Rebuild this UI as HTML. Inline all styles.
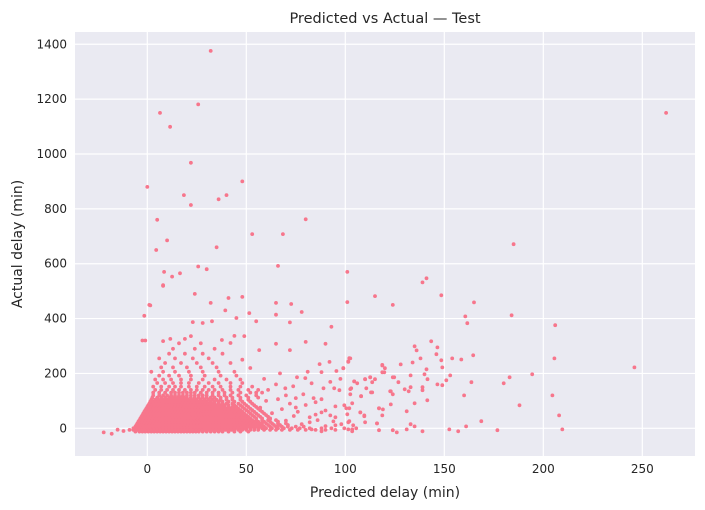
<!DOCTYPE html>
<html><head><meta charset="utf-8"><style>
body{margin:0;background:#fff;}
svg{display:block;font-family:"DejaVu Sans","Liberation Sans",sans-serif;}
</style></head><body>
<svg id="chart" width="705" height="510" xmlns="http://www.w3.org/2000/svg"></svg>
<script>
const xTicks = [0, 50, 100, 150, 200, 250];
const yTicks = [0, 200, 400, 600, 800, 1000, 1200, 1400];
const outliers = [
[32,1376],[6.4,1150],[11.5,1099],[25.7,1181],[22,968],[0,880],[18.5,850],[22,814],[36,835],[40,850],[48,900],
[5,760],[10,685],[4.5,650],[35,660],[53,708],[68.5,708],[80,762],[25.7,590],[30,580],[66,592],[8.5,570],[12.5,553],
[16.5,565],[8,522],[24,490],[41,475],[-1.5,410],[1,450],[-2.5,320],[-1,320],[1.5,448],[8,519],[32,457],[23,387],
[28,384],[32.7,390],[39.4,430],[45,402],[48,479],[51.5,420],[55,390],[49,336],[65,457],[65,414],[72.7,453],[78,424],
[72,386],[93,370],[101,570],[101,460],[115,482],[124,450],[65,308],[80,315],[90,308],[72,285],[56.5,285],[22,336],
[11.6,326],[19,326],[37.7,322],[42,311],[44,337],[8,318],[102,256],[118.7,231],[92.4,169],
[185,671],[141,547],[139,532],[148.5,485],[165,459],[160.6,408],[161.6,383],[184,412],[206,376],[205.6,255],[246,222],
[143.4,317],[146.5,295],[135,299],[136,284],[146,270],[138,255],[148.5,248],[154,255],[158.6,251],[164.6,266],[134,240],
[149,222],[141,215],[128,233],[118.7,229],[120,219],[119.7,204],[194.4,197],[183,186],[180,164],[163.7,168],[153,193],
[151,175],[149,157],[146.5,160],[141.5,179],[140,197],[133,193],[124.7,186],[126.8,168],[139,150],[139,139],[133,150],
[130,142],[132,135],[123,135],[124,124],[160,120],[204.6,120],[188,84],[208,47],[209.6,-4],[168.7,26],[176.8,-7],[161,7],
[157,-11],[152.5,-4],[141.4,102],[135,91],[131,62],[133,15],[135,7],[139,-11],[131,-4],[126,-15],[124,-7],[117,-7],[116,18],
[118.7,47],[117,73],[119,69],[123,87],[113,131],[110.6,146],[110,179],[112.6,186],[115,179],[113.6,168],[106,164],
[104.5,171],[102.5,255],[101.5,244],[99,219],[107.6,58],[109.6,47],[110,22],[103.5,91],[102,73],[99.5,84],[101,51],
[102,26],[104,11],[105.5,0],[103.5,-11],[101.5,-4],[99.5,0],[98,15],[108,117],[102.5,124],[103,146],[97,139],[262,1150],
[81,206],[87,234],[92,242],[88,205],[95.5,209],[99,219],[101.5,242],[97.5,180],[104.5,171],[110,179],[112.6,186],[118.7,204],
[124,186],[75.6,186],[79.8,183],[83,164],[89,146],[94.4,146],[102.5,143],[108,117],[113.6,131],[122.7,135],[69.7,146],
[73.7,153],[78.8,124],[84,110],[88,106],[95,80],[100.5,73],[107.6,58],[117,73],[66,106],[75,76],[82,40],[88,58],[92.4,47],
[101.5,22],[109.6,44],[116,18],[83,-4],[88,-11],[95,11],[103.5,-4],[-22,-15],[-18,-20],[-15,-5],[-12,-10],
[58,20],[62,35],[66,10],[70,28],[74,45],[78,15],[82,22],[86,30],[90,8],[94,25],[63,55],[68,70],[72,90],[76,60],[80,85],
[85,50],[90,65],[95,40],[60,100],[70,120],[55,130],[65,160],[75,110],[85,95],[57,75],[61,140],[59,180],[67,200],[52,220],[48,250]
];
const blobY = [-12,-6,0,6,12,18,24,30,36,42,48,54,60,66,72,78,84,90,97,104,112,120,130,140,152,165,178,192,206,222,238,255,272,290,310];
const blobX = [
"-6 -4 -2.5 -1 0.5 2 3.5 5 6.5 8 9.5 11 12.5 14 15.5 17 18.5 20 21.5 23 24.5 26 28 30 32 34 36 38 41 44 47 51",
"-9 -7 -5.5 -4 -2.5 -1 0.5 2 3.5 5 6.5 8 9.5 11 12.5 14 15.5 17 18.5 20 21.5 23 24.5 26 27.5 29 30.5 32 33.5 35 36.5 38 39.5 41 42.5 44 46 48 50 52 54 56 59 62 65 68 72 76 80 85 90 95",
"-7 -5.5 -4 -2.5 -1 0.5 2 3.5 5 6.5 8 9.5 11 12.5 14 15.5 17 18.5 20 21.5 23 24.5 26 27.5 29 30.5 32 33.5 35 36.5 38 39.5 41 42.5 44 45.5 47 48.5 50 52 54 56 58 60 63 66 69 73 77 82 88 93",
"-6 -4.5 -3 -1.5 0 1.5 3 4.5 6 7.5 9 10.5 12 13.5 15 16.5 18 19.5 21 22.5 24 25.5 27 28.5 30 31.5 33 34.5 36 37.5 39 40.5 42 43.5 45 46.5 48 49.5 51 53 55 57 59 62 65 68 71 75 79",
"-5.5 -4 -2.5 -1 0.5 2 3.5 5 6.5 8 9.5 11 12.5 14 15.5 17 18.5 20 21.5 23 24.5 26 27.5 29 30.5 32 33.5 35 36.5 38 39.5 41 42.5 44 45.5 47 48.5 50 52 54 56 58 61 64 67 71",
"-5 -3.5 -2 -0.5 1 2.5 4 5.5 7 8.5 10 11.5 13 14.5 16 17.5 19 20.5 22 23.5 25 26.5 28 29.5 31 32.5 34 35.5 37 38.5 40 41.5 43 44.5 46 47.5 49 51 53 55 57 60 63 66 70",
"-4.5 -3 -1.5 0 1.5 3 4.5 6 7.5 9 10.5 12 13.5 15 16.5 18 19.5 21 22.5 24 25.5 27 28.5 30 31.5 33 34.5 36 37.5 39 40.5 42 43.5 45 46.5 48 50 52 54 56 59 62 66",
"-4 -2.5 -1 0.5 2 3.5 5 6.5 8 9.5 11 12.5 14 15.5 17 18.5 20 21.5 23 24.5 26 27.5 29 30.5 32 33.5 35 36.5 38 39.5 41 42.5 44 45.5 47 49 51 53 55 58 61 65",
"-3.5 -2 -0.5 1 2.5 4 5.5 7 8.5 10 11.5 13 14.5 16 17.5 19 20.5 22 23.5 25 26.5 28 29.5 31 32.5 34 35.5 37 38.5 40 41.5 43 44.5 46 48 50 52 55 58 62",
"-3 -1.5 0 1.5 3 4.5 6 7.5 9 10.5 12 13.5 15 16.5 18 19.5 21 22.5 24 25.5 27 28.5 30 31.5 33 34.5 36 37.5 39 40.5 42 43.5 45 47 49 51 54 57 61",
"-2.5 -1 0.5 2 3.5 5 6.5 8 9.5 11 12.5 14 15.5 17 18.5 20 21.5 23 24.5 26 27.5 29 30.5 32 33.5 35 36.5 38 39.5 41 42.5 44 46 48 50 53 56 60",
"-2 -0.5 1 2.5 4 5.5 7 8.5 10 11.5 13 14.5 16 17.5 19 20.5 22 23.5 25 26.5 28 29.5 31 32.5 34 35.5 37 38.5 40 41.5 43 45 47 49 52 55 59",
"-1.5 0 1.5 3 4.5 6 7.5 9 10.5 12 13.5 15 16.5 18 19.5 21 22.5 24 25.5 27 28.5 30 31.5 33 34.5 36 37.5 39 40.5 42 44 46 48 51 54 58",
"-1 0.5 2 3.5 5 6.5 8 9.5 11 12.5 14 15.5 17 18.5 20 21.5 23 24.5 26 27.5 29 30.5 32 33.5 35 36.5 38 39.5 41 43 45 47 50 53 57",
"-0.5 1 2.5 4 5.5 7 8.5 10 11.5 13 14.5 16 17.5 19 20.5 22 23.5 25 26.5 28 29.5 31 32.5 34 35.5 37 38.5 40 42 44 46 49 52 56",
"0 1.5 3 4.5 6 7.5 9 10.5 12 13.5 15 16.5 18 19.5 21 22.5 24 25.5 27 28.5 30 31.5 33 34.5 36 37.5 39 41 43 45 48 51 55",
"0.5 2 3.5 5 6.5 8 9.5 11 12.5 14 15.5 17 18.5 20 21.5 23 24.5 26 27.5 29 30.5 32 33.5 35 37 39 41 44 47 50 54",
"1 2.5 4 5.5 7 8.5 10 11.5 13 14.5 16 17.5 19 20.5 22 23.5 25 26.5 28 29.5 31 32.5 34 36 38 40 43 46 49 53",
"1.5 3 4.5 6 7.5 9 10.5 12 13.5 15 16.5 18 19.5 21 22.5 24 25.5 27 28.5 30 32 34 36 38 41 44 48 52",
"2 4 5.5 7 8.5 10 11.5 13 14.5 16 17.5 19 20.5 22 23.5 25 27 29 31 33 35 37 40 43 47 51",
"2.5 5 7 9 11 12.5 14 15.5 17 18.5 20 22 24 26 28 30 32 34 37 40 43 47 51 56",
"3 6 8 10 12 14 16 18 20 22 24 26 28 30 33 36 39 42 46 50 55",
"3 6 9 12 14 16 18 20 22 24 27 30 33 36 39 43 47 52 58",
"4 7 10 13 16 19 22 25 28 31 34 38 42 46 51 56",
"3 7 11 14 17 21 25 29 33 37 42 47 53",
"5 9 13 17 21 26 31 36 42 48",
"4 8 12 17 22 28 34 40 47",
"6 11 16 22 29 37 45",
"2 8 14 21 28 36 44",
"7 13 20 27 35",
"9 17 25 33 42",
"6 14 23 31",
"11 19 28 38",
"13 24 34",
"16 27"
];
const NS = "http://www.w3.org/2000/svg";
const svg = document.getElementById('chart');
const L=75,R=695,T=32,B=456;
const sx = v => 147.3 + v*1.98;
const sy = v => 428.3 - v*0.2743;
function el(tag, attrs, parent){const e=document.createElementNS(NS,tag);for(const k in attrs)e.setAttribute(k,attrs[k]);(parent||svg).appendChild(e);return e;}
const bg = el('rect',{x:L,y:T,width:R-L,height:B-T,fill:'#eaeaf2'});


const grid = el('g',{stroke:'#ffffff','stroke-width':1.2});


xTicks.forEach(t=>{el('line',{x1:sx(t),x2:sx(t),y1:T,y2:B},grid);
 const tx=el('text',{x:sx(t),y:473,'text-anchor':'middle','font-size':12,fill:'#262626'});tx.textContent=t;
 
 });
yTicks.forEach(t=>{el('line',{x1:L,x2:R,y1:sy(t),y2:sy(t)},grid);
 const tx=el('text',{x:67,y:sy(t)+4,'text-anchor':'end','font-size':12,fill:'#262626'});tx.textContent=t;
 
 });
const pts = el('g',{fill:'#f7768c'});


function dot(x,y){const c=el('circle',{cx:sx(x).toFixed(1),cy:sy(y).toFixed(1),r:1.9},pts);
 
 }
blobY.forEach((y,i)=>blobX[i].split(' ').forEach(x=>dot(+x,y)));
outliers.forEach(p=>dot(p[0],p[1]));
const title=el('text',{x:385,y:23,'text-anchor':'middle','font-size':14.5,fill:'#262626'});title.textContent='Predicted vs Actual — Test';


const xt=el('text',{x:385,y:497,'text-anchor':'middle','font-size':14,fill:'#262626'});xt.textContent='Predicted delay (min)';


const yt=el('text',{x:0,y:0,'text-anchor':'middle','font-size':14,fill:'#262626',transform:'translate(22,244) rotate(-90)'});yt.textContent='Actual delay (min)';


</script>
</body></html>
